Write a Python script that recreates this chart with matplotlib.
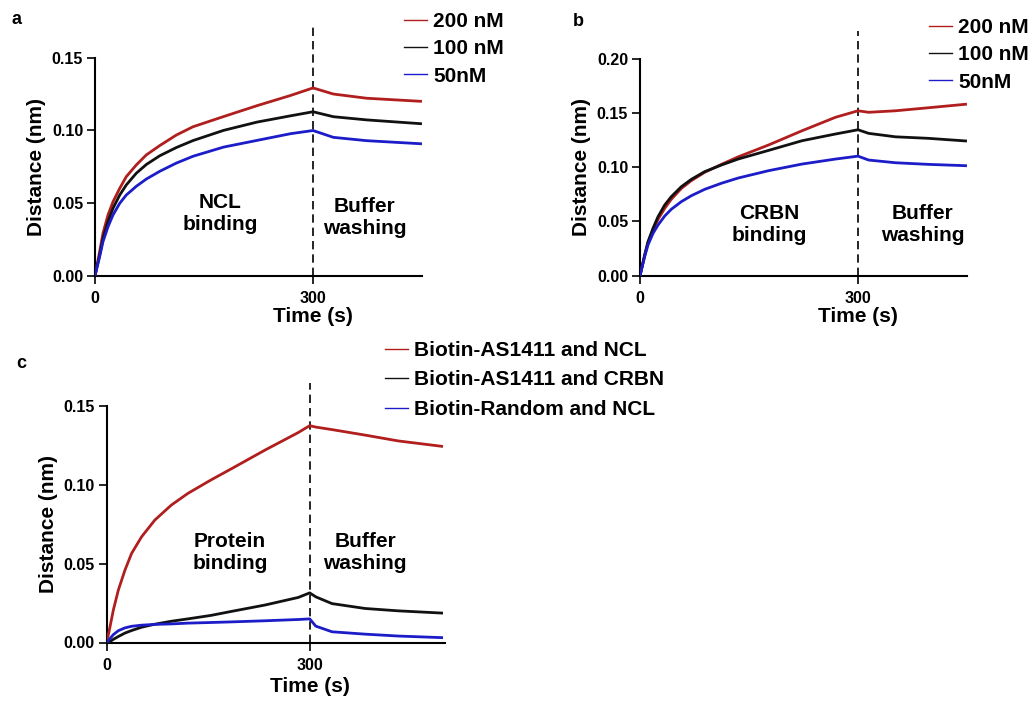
import matplotlib
matplotlib.use("Agg")
import matplotlib.pyplot as plt
from matplotlib.lines import Line2D

plt.rcParams['font.family'] = ['Liberation Sans', 'DejaVu Sans']
plt.rcParams['font.weight'] = 'bold'

# ---------------- data ----------------
# Panel a: NCL binding
t_a = [0, 6.4, 11, 17.9, 24.8, 34, 43, 56.8, 70.6, 89, 112, 135, 177, 223, 269, 300, 328, 374, 448]
a_200 = [0, 0.0165, 0.0292, 0.0418, 0.0509, 0.0601, 0.0681, 0.0762, 0.0831, 0.0895, 0.0968, 0.1025,
         0.1095, 0.1170, 0.1240, 0.1292, 0.1250, 0.1221, 0.1200]
a_100 = [0, 0.0142, 0.0257, 0.0372, 0.0464, 0.0555, 0.0624, 0.0705, 0.0765, 0.0825, 0.0882, 0.0930,
         0.1000, 0.1057, 0.1100, 0.1128, 0.1094, 0.1072, 0.1046]
a_50 = [0, 0.0131, 0.0234, 0.0337, 0.0418, 0.0498, 0.0555, 0.0615, 0.0665, 0.0718, 0.0775, 0.0822,
        0.0885, 0.0931, 0.0977, 0.0999, 0.0952, 0.0929, 0.0908]

# Panel b: CRBN binding
t_b = [0, 6.4, 11, 17.9, 24.8, 34, 43, 56.8, 70.6, 89, 112, 135, 177, 223, 269, 300, 314.6, 351.6, 397, 448]
b_200 = [0, 0.0185, 0.0305, 0.0422, 0.0520, 0.0621, 0.0704, 0.0804, 0.0876, 0.0953, 0.1026, 0.1095,
         0.1205, 0.1336, 0.1460, 0.1520, 0.1506, 0.1520, 0.1548, 0.1580]
b_100 = [0, 0.0191, 0.0313, 0.0437, 0.0544, 0.0652, 0.0728, 0.0820, 0.0888, 0.0959, 0.1020, 0.1075,
         0.1155, 0.1244, 0.1306, 0.1345, 0.1312, 0.1280, 0.1266, 0.1242]
b_50 = [0, 0.0175, 0.0283, 0.0390, 0.0467, 0.0550, 0.0612, 0.0682, 0.0737, 0.0796, 0.0852, 0.0900,
        0.0968, 0.1029, 0.1075, 0.1102, 0.1066, 0.1041, 0.1026, 0.1014]

# Panel c: protein binding comparison
t_c = [0, 4.9, 9.8, 17.2, 27, 36.8, 51.5, 71, 95.6, 120, 154, 185, 234, 283, 300, 309, 333, 382, 431, 495]
c_as_ncl = [0, 0.0100, 0.0206, 0.0333, 0.0460, 0.0566, 0.0671, 0.0777, 0.0873, 0.0947, 0.1032, 0.1105,
            0.1222, 0.1333, 0.1377, 0.1368, 0.1352, 0.1317, 0.1280, 0.1246]
c_as_crbn = [0, 0.0006, 0.0020, 0.0038, 0.0060, 0.0076, 0.0097, 0.0116, 0.0135, 0.0150, 0.0172, 0.0198,
             0.0238, 0.0286, 0.0315, 0.0290, 0.0247, 0.0216, 0.0201, 0.0187]
c_rand_ncl = [0, 0.0025, 0.0050, 0.0075, 0.0093, 0.0103, 0.0110, 0.0115, 0.0118, 0.0123, 0.0127, 0.0131,
              0.0138, 0.0146, 0.0150, 0.0104, 0.0068, 0.0053, 0.0041, 0.0031]

labels_ab = ['200 nM', '100 nM', '50nM']
labels_c = ['Biotin-AS1411 and NCL', 'Biotin-AS1411 and CRBN', 'Biotin-Random and NCL']
binding_a = 'NCL\nbinding'
binding_b = 'CRBN\nbinding'
binding_c = 'Protein\nbinding'
washing = 'Buffer\nwashing'

RED = '#B01E1E'
BLACK = '#111111'
BLUE = '#1C1CC8'
colors = [RED, BLACK, BLUE]

W, H = 1032, 705
fig = plt.figure(figsize=(W / 100, H / 100), dpi=100)


def px_axes(l, r, top, bot):
    return fig.add_axes([l / W, 1 - bot / H, (r - l) / W, (bot - top) / H])


def style(ax, xmax, ymax, yticks, dash_top, xlab_off_px, h_px):
    ax.set_xlim(0, xmax)
    ax.set_ylim(0, ymax)
    ax.set_xticks([0, 300])
    ax.set_xticklabels(['0', '300'])
    ax.set_yticks(yticks)
    ax.set_yticklabels(['%.2f' % v for v in yticks])
    for s in ['top', 'right']:
        ax.spines[s].set_visible(False)
    for s in ['left', 'bottom']:
        ax.spines[s].set_linewidth(1.5)
        ax.spines[s].set_color('black')
    ax.tick_params(axis='both', direction='out', length=5.5, width=1.2, labelsize=11.5)
    ax.tick_params(axis='y', pad=3)
    ax.tick_params(axis='x', pad=5.5)
    for lab in ax.get_xticklabels() + ax.get_yticklabels():
        lab.set_fontweight('bold')
    ax.plot([300, 300], [0, dash_top * ymax], color='black', lw=1.2, ls=(0, (5, 3)),
            clip_on=False, zorder=1)
    ax.set_ylabel('Distance (nm)', fontsize=15, fontweight='bold', labelpad=4)
    ax.set_xlabel('Time (s)', fontsize=15, fontweight='bold', labelpad=0)
    ax.xaxis.set_label_coords(300 / xmax, -xlab_off_px / h_px)


def add_legend(ax, labels, x_px, top_px, spacing):
    handles = [Line2D([0], [0], color=c, lw=1.0) for c in colors]
    ax.legend(handles, labels, loc='upper left',
              bbox_to_anchor=(x_px / W, 1 - top_px / H), bbox_transform=fig.transFigure,
              frameon=False, prop={'weight': 'bold', 'size': 15},
              handlelength=1.1, handletextpad=0.3, labelspacing=spacing,
              borderpad=0, borderaxespad=0)


LW = 2.0

# ---------------- panel a ----------------
ax_a = px_axes(95, 422, 57.7, 275.7)
for y, c in zip([a_200, a_100, a_50], colors):
    ax_a.plot(t_a, y, color=c, lw=LW, zorder=3)
style(ax_a, 450, 0.15, [0.00, 0.05, 0.10, 0.15], 1.141, 31, 218)
ax_a.text(172, 0.0425, binding_a, ha='center', va='center', fontsize=15, fontweight='bold')
ax_a.text(371, 0.0400, washing, ha='center', va='center', fontsize=15, fontweight='bold')
add_legend(ax_a, labels_ab, 404, 12, 0.4)
fig.text(16 / W, 1 - 20 / H, 'a', fontsize=13, fontweight='bold', ha='center', va='center')

# ---------------- panel b ----------------
ax_b = px_axes(640, 967, 58.7, 275.7)
for y, c in zip([b_200, b_100, b_50], colors):
    ax_b.plot(t_b, y, color=c, lw=LW, zorder=3)
style(ax_b, 450, 0.20, [0.00, 0.05, 0.10, 0.15, 0.20], 1.128, 31, 217)
ax_b.text(177.5, 0.0472, binding_b, ha='center', va='center', fontsize=15, fontweight='bold')
ax_b.text(388.6, 0.0472, washing, ha='center', va='center', fontsize=15, fontweight='bold')
add_legend(ax_b, labels_ab, 929, 18, 0.4)
fig.text(578 / W, 1 - 21 / H, 'b', fontsize=13, fontweight='bold', ha='center', va='center')

# ---------------- panel c ----------------
ax_c = px_axes(106.7, 445, 406.3, 642.5)
for y, c in zip([c_as_ncl, c_as_crbn, c_rand_ncl], colors):
    ax_c.plot(t_c, y, color=c, lw=LW, zorder=3)
style(ax_c, 500, 0.15, [0.00, 0.05, 0.10, 0.15], 1.099, 34, 236.2)
ax_c.text(182, 0.0574, binding_c, ha='center', va='center', fontsize=15, fontweight='bold')
ax_c.text(382, 0.0574, washing, ha='center', va='center', fontsize=15, fontweight='bold')
add_legend(ax_c, labels_c, 385, 341, 0.5)
fig.text(21 / W, 1 - 363 / H, 'c', fontsize=13, fontweight='bold', ha='center', va='center')

fig.savefig('out.png', dpi=100, facecolor='white')
